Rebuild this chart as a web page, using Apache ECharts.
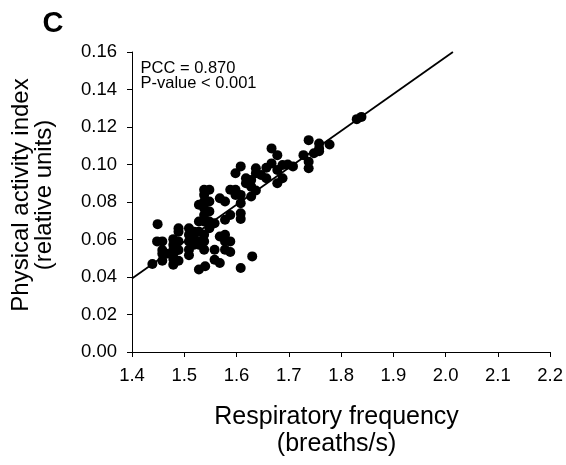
<!DOCTYPE html>
<html><head><meta charset="utf-8">
<script src="https://cdn.jsdelivr.net/npm/echarts@6/dist/echarts.min.js"></script>
<style>html,body{margin:0;padding:0;background:#fff}#c{width:566px;height:465px}</style>
</head><body><div id="c"></div>
<script>
var respFreq = [1.439,1.449,1.448,1.458,1.458,1.458,1.458,1.466,1.479,1.479,1.479,1.479,1.479,1.479,1.489,1.489,1.489,1.489,1.489,1.509,1.509,1.509,1.509,1.509,1.519,1.519,1.519,1.528,1.528,1.528,1.528,1.528,1.528,1.538,1.538,1.538,1.538,1.538,1.538,1.538,1.538,1.538,1.540,1.548,1.548,1.548,1.548,1.548,1.558,1.558,1.558,1.568,1.568,1.568,1.578,1.578,1.578,1.578,1.578,1.588,1.588,1.588,1.588,1.598,1.598,1.598,1.608,1.608,1.608,1.608,1.608,1.608,1.618,1.618,1.628,1.628,1.630,1.628,1.637,1.637,1.637,1.647,1.657,1.657,1.667,1.667,1.678,1.678,1.678,1.688,1.688,1.698,1.708,1.728,1.738,1.738,1.738,1.748,1.758,1.758,1.758,1.778,1.830,1.839];
var activityIdx = [0.0469,0.0682,0.0590,0.0590,0.0544,0.0524,0.0487,0.0524,0.0602,0.0572,0.0545,0.0524,0.0496,0.0466,0.0660,0.0642,0.0590,0.0544,0.0487,0.0660,0.0625,0.0590,0.0546,0.0516,0.0642,0.0603,0.0572,0.0785,0.0696,0.0642,0.0590,0.0572,0.0440,0.0865,0.0838,0.0803,0.0767,0.0731,0.0696,0.0625,0.0590,0.0546,0.0457,0.0865,0.0803,0.0750,0.0696,0.0660,0.0687,0.0545,0.0492,0.0820,0.0616,0.0475,0.0803,0.0705,0.0625,0.0590,0.0546,0.0865,0.0731,0.0590,0.0533,0.0953,0.0865,0.0838,0.0990,0.0838,0.0794,0.0740,0.0710,0.0448,0.0927,0.0900,0.0918,0.0882,0.0510,0.0829,0.0980,0.0953,0.0861,0.0944,0.0927,0.0983,0.1086,0.1006,0.1050,0.0971,0.0900,0.0997,0.0927,0.1000,0.0990,0.1050,0.1130,0.1015,0.0980,0.1060,0.1112,0.1086,0.1071,0.1107,0.1242,0.1254];
var fitX = [1.4, 2.014];
var fitY = [0.0392, 0.160];
var xTicks = [1.4,1.5,1.6,1.7,1.8,1.9,2.0,2.1,2.2];
var yTicks = [0.00,0.02,0.04,0.06,0.08,0.10,0.12,0.14,0.16];

var FONT = '"Liberation Sans", Arial, sans-serif';
var pts = respFreq.map(function(x,i){return [x, activityIdx[i]];});
var fit = fitX.map(function(x,i){return [x, fitY[i]];});
var chart = echarts.init(document.getElementById('c'));
chart.setOption({
  animation:false,
  backgroundColor:'#fff',
  grid:{left:132,right:15,top:52,bottom:113},
  xAxis:{type:'value',min:xTicks[0],max:xTicks[xTicks.length-1],interval:0.1,
    name:'Respiratory frequency\n(breaths/s)',nameLocation:'middle',nameGap:52,
    nameTextStyle:{color:'#000',fontFamily:FONT,fontSize:25,lineHeight:27,padding:[0,9,0,0]},
    axisLine:{show:true,onZero:false,lineStyle:{color:'#000',width:1}},
    axisTick:{show:true,inside:false,length:5,lineStyle:{color:'#000'}},
    splitLine:{show:false},
    axisLabel:{color:'#000',fontFamily:FONT,fontSize:18.5,margin:14,
      formatter:function(v){return v.toFixed(1);}}},
  yAxis:{type:'value',min:yTicks[0],max:yTicks[yTicks.length-1],interval:0.02,
    name:'Physical activity index\n(relative units)',nameLocation:'middle',nameGap:76,nameRotate:90,
    nameTextStyle:{color:'#000',fontFamily:FONT,fontSize:24,lineHeight:23,padding:[0,0,0,14]},
    axisLine:{show:true,onZero:false,lineStyle:{color:'#000',width:1}},
    axisTick:{show:true,inside:false,length:5,lineStyle:{color:'#000'}},
    splitLine:{show:false},
    axisLabel:{color:'#000',fontFamily:FONT,fontSize:18.5,margin:15,
      formatter:function(v){return v.toFixed(2);}}},
  series:[
    {type:'line',data:fit,symbol:'none',lineStyle:{color:'#000',width:1.8},z:3},
    {type:'scatter',data:pts,symbol:'circle',symbolSize:10,itemStyle:{color:'#000',opacity:1},z:2}
  ],
  graphic:[
    {type:'text',x:53,y:24,style:{text:'C',font:'bold 29px '+FONT,fill:'#000',align:'center',verticalAlign:'middle'}},
    {type:'text',x:140.5,y:68,style:{text:'PCC = 0.870',font:'16.5px '+FONT,fill:'#000',align:'left',verticalAlign:'middle'}},
    {type:'text',x:140.5,y:83.5,style:{text:'P-value < 0.001',font:'16.5px '+FONT,fill:'#000',align:'left',verticalAlign:'middle'}}
  ]
});
</script></body></html>
